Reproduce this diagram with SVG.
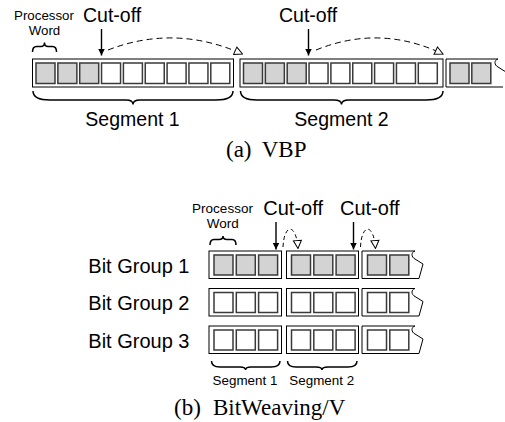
<svg xmlns="http://www.w3.org/2000/svg" width="505" height="422" viewBox="0 0 505 422">
<style>
.seg{fill:#fff;stroke:#000;stroke-width:1}
.sq{stroke:#3a3a3a;stroke-width:1.5}
.g{fill:#d3d3d3}
.w{fill:#fff}
.br{fill:none;stroke:#000;stroke-width:1.5}
.edge{fill:none;stroke:#000;stroke-width:1}
.arr{fill:none;stroke:#000;stroke-width:1.4}
.dash{fill:none;stroke:#000;stroke-width:1;stroke-dasharray:6 4}
.dashs{fill:none;stroke:#000;stroke-width:1;stroke-dasharray:4 3}
.sans{font-family:"Liberation Sans",Arial,Helvetica,sans-serif;fill:#000}
.serif{font-family:"Liberation Serif","Times New Roman",serif;fill:#000}
</style>
<defs>
<marker id="fill" viewBox="0 0 10 10" refX="10" refY="5" markerWidth="7" markerHeight="7" orient="auto" markerUnits="userSpaceOnUse">
<path d="M0,0 L10,5 L0,10 Z" fill="#000"/>
</marker>
<marker id="open" viewBox="0 0 10 10" refX="9" refY="5" markerWidth="10" markerHeight="10" orient="auto" markerUnits="userSpaceOnUse">
<path d="M1,1 L9,5 L1,9 Z" fill="#fff" stroke="#000" stroke-width="1"/>
</marker>
</defs>

<!-- (a) VBP -->
<g id="vbp-labels">
<text class="sans" x="44" y="20" font-size="13.3" text-anchor="middle">Processor</text>
<text class="sans" x="44.5" y="35" font-size="13.3" text-anchor="middle">Word</text>
<text class="sans" x="83" y="22" font-size="19.5">Cut-off</text>
<text class="sans" x="279" y="22" font-size="19.5">Cut-off</text>
</g>

<g id="vbp-seg1">
<rect class="seg" x="32.5" y="59" width="201" height="28"/>
<rect class="sq g" x="36" y="63" width="19" height="20.5"/>
<rect class="sq g" x="57.85" y="63" width="19" height="20.5"/>
<rect class="sq g" x="79.7" y="63" width="19" height="20.5"/>
<rect class="sq w" x="101.55" y="63" width="19" height="20.5"/>
<rect class="sq w" x="123.4" y="63" width="19" height="20.5"/>
<rect class="sq w" x="145.25" y="63" width="19" height="20.5"/>
<rect class="sq w" x="167.1" y="63" width="19" height="20.5"/>
<rect class="sq w" x="188.95" y="63" width="19" height="20.5"/>
<rect class="sq w" x="210.8" y="63" width="19" height="20.5"/>
</g>

<g id="vbp-seg2">
<rect class="seg" x="240" y="59" width="203" height="28"/>
<rect class="sq g" x="243.5" y="63" width="19" height="20.5"/>
<rect class="sq g" x="265.35" y="63" width="19" height="20.5"/>
<rect class="sq g" x="287.2" y="63" width="19" height="20.5"/>
<rect class="sq w" x="309.05" y="63" width="19" height="20.5"/>
<rect class="sq w" x="330.9" y="63" width="19" height="20.5"/>
<rect class="sq w" x="352.75" y="63" width="19" height="20.5"/>
<rect class="sq w" x="374.6" y="63" width="19" height="20.5"/>
<rect class="sq w" x="396.45" y="63" width="19" height="20.5"/>
<rect class="sq w" x="418.3" y="63" width="19" height="20.5"/>
</g>

<g id="vbp-seg3">
<path class="edge" d="M498,59 L446,59 L446,87 L503,87"/>
<path class="edge" d="M498,59 c-4,1 -4,6 0,8 l8,5"/>
<rect class="sq g" x="450" y="63" width="19" height="20.5"/>
<rect class="sq g" x="471.8" y="63" width="19" height="20.5"/>
</g>

<g id="vbp-braces">
<path class="br" d="M32.5,52 Q32.5,46.5 36.5,46.5 L41,46.5 Q44.5,46.5 44.5,42.5 Q44.5,46.5 48,46.5 L52.5,46.5 Q56.5,46.5 56.5,52"/>
<path class="br" d="M33,91 Q33,100 50,100 L126,100 Q133,100 133,104.5 Q133,100 140,100 L216,100 Q233,100 233,91"/>
<path class="br" d="M240.5,91 Q240.5,100 257,100 L334,100 Q341.5,100 341.5,104.5 Q341.5,100 349,100 L426,100 Q443,100 443,91"/>
<text class="sans" x="132.5" y="126" font-size="19.5" text-anchor="middle">Segment 1</text>
<text class="sans" x="341.5" y="126" font-size="19.5" text-anchor="middle">Segment 2</text>
</g>

<g id="vbp-connectors">
<line class="arr" x1="101.5" y1="29" x2="101.5" y2="55.5" marker-end="url(#fill)"/>
<line class="arr" x1="308.5" y1="29" x2="308.5" y2="55.5" marker-end="url(#fill)"/>
<path class="dash" d="M108,50 Q175,24 242.5,54" marker-end="url(#open)"/>
<path class="dash" d="M316,50 Q380,24 443,54" marker-end="url(#open)"/>
</g>

<text class="serif" x="226" y="157" font-size="23">(a)<tspan x="261.7">VBP</tspan></text>

<!-- (b) BitWeaving/V -->
<g id="bw-labels">
<text class="sans" x="222.5" y="212.7" font-size="13.5" text-anchor="middle">Processor</text>
<text class="sans" x="222.7" y="228.3" font-size="13.5" text-anchor="middle">Word</text>
<text class="sans" x="263.3" y="215" font-size="20">Cut-off</text>
<text class="sans" x="340" y="215" font-size="20">Cut-off</text>
<text class="sans" x="88.3" y="272.5" font-size="20">Bit Group 1</text>
<text class="sans" x="88.3" y="310" font-size="20">Bit Group 2</text>
<text class="sans" x="88.3" y="347.5" font-size="20">Bit Group 3</text>
</g>

<g id="bw-row1">
<rect class="seg" x="209" y="251" width="72.5" height="27.5"/>
<rect class="sq g" x="214" y="255" width="19" height="20"/>
<rect class="sq g" x="236.3" y="255" width="19" height="20"/>
<rect class="sq g" x="258.6" y="255" width="19" height="20"/>
<rect class="seg" x="286.5" y="251" width="72" height="27.5"/>
<rect class="sq g" x="291.5" y="255" width="19" height="20"/>
<rect class="sq g" x="313.8" y="255" width="19" height="20"/>
<rect class="sq g" x="336.1" y="255" width="19" height="20"/>
<path class="edge" d="M415,251 L362,251 L362,278.5 L419,278.5"/>
<path class="edge" d="M415,251 c-4,1 -4,6 0,8 l8,5 l-4,14.5"/>
<rect class="sq g" x="367.5" y="255" width="19" height="20"/>
<rect class="sq g" x="389.8" y="255" width="19" height="20"/>
</g>

<g id="bw-row2">
<rect class="seg" x="209" y="288.5" width="72.5" height="27.5"/>
<rect class="sq w" x="214" y="292.5" width="19" height="20"/>
<rect class="sq w" x="236.3" y="292.5" width="19" height="20"/>
<rect class="sq w" x="258.6" y="292.5" width="19" height="20"/>
<rect class="seg" x="286.5" y="288.5" width="72" height="27.5"/>
<rect class="sq w" x="291.5" y="292.5" width="19" height="20"/>
<rect class="sq w" x="313.8" y="292.5" width="19" height="20"/>
<rect class="sq w" x="336.1" y="292.5" width="19" height="20"/>
<path class="edge" d="M415,288.5 L362,288.5 L362,316 L419,316"/>
<path class="edge" d="M415,288.5 c-4,1 -4,6 0,8 l8,5 l-4,14.5"/>
<rect class="sq w" x="367.5" y="292.5" width="19" height="20"/>
<rect class="sq w" x="389.8" y="292.5" width="19" height="20"/>
</g>

<g id="bw-row3">
<rect class="seg" x="209" y="326" width="72.5" height="27.5"/>
<rect class="sq w" x="214" y="330" width="19" height="20"/>
<rect class="sq w" x="236.3" y="330" width="19" height="20"/>
<rect class="sq w" x="258.6" y="330" width="19" height="20"/>
<rect class="seg" x="286.5" y="326" width="72" height="27.5"/>
<rect class="sq w" x="291.5" y="330" width="19" height="20"/>
<rect class="sq w" x="313.8" y="330" width="19" height="20"/>
<rect class="sq w" x="336.1" y="330" width="19" height="20"/>
<path class="edge" d="M415,326 L362,326 L362,353.5 L419,353.5"/>
<path class="edge" d="M415,326 c-4,1 -4,6 0,8 l8,5 l-4,14.5"/>
<rect class="sq w" x="367.5" y="330" width="19" height="20"/>
<rect class="sq w" x="389.8" y="330" width="19" height="20"/>
</g>

<g id="bw-braces">
<path class="br" d="M210,245 Q210,239.5 214,239.5 L219,239.5 Q223,239.5 223,236 Q223,239.5 227,239.5 L232,239.5 Q236,239.5 236,245"/>
<path class="br" d="M211.5,361 Q211.5,367 220,367 L240,367 Q245.5,367 245.5,370 Q245.5,367 251,367 L271,367 Q280,367 280,361"/>
<path class="br" d="M287.5,361 Q287.5,367 296,367 L316,367 Q322,367 322,370 Q322,367 328,367 L348,367 Q357,367 357,361"/>
<text class="sans" x="245" y="385" font-size="13.4" text-anchor="middle">Segment 1</text>
<text class="sans" x="321.7" y="385" font-size="13.4" text-anchor="middle">Segment 2</text>
</g>

<g id="bw-connectors">
<line class="arr" x1="276" y1="222" x2="276" y2="249.5" marker-end="url(#fill)"/>
<line class="arr" x1="353.5" y1="222" x2="353.5" y2="249.5" marker-end="url(#fill)"/>
<path class="dashs" d="M283,247 C284,224 296,222 298,248.5" marker-end="url(#open)"/>
<path class="dashs" d="M360.5,247 C361.5,224 373.5,222 375.5,248.5" marker-end="url(#open)"/>
</g>

<text class="serif" x="174" y="415" font-size="23">(b)<tspan x="213">BitWeaving/V</tspan></text>
</svg>
